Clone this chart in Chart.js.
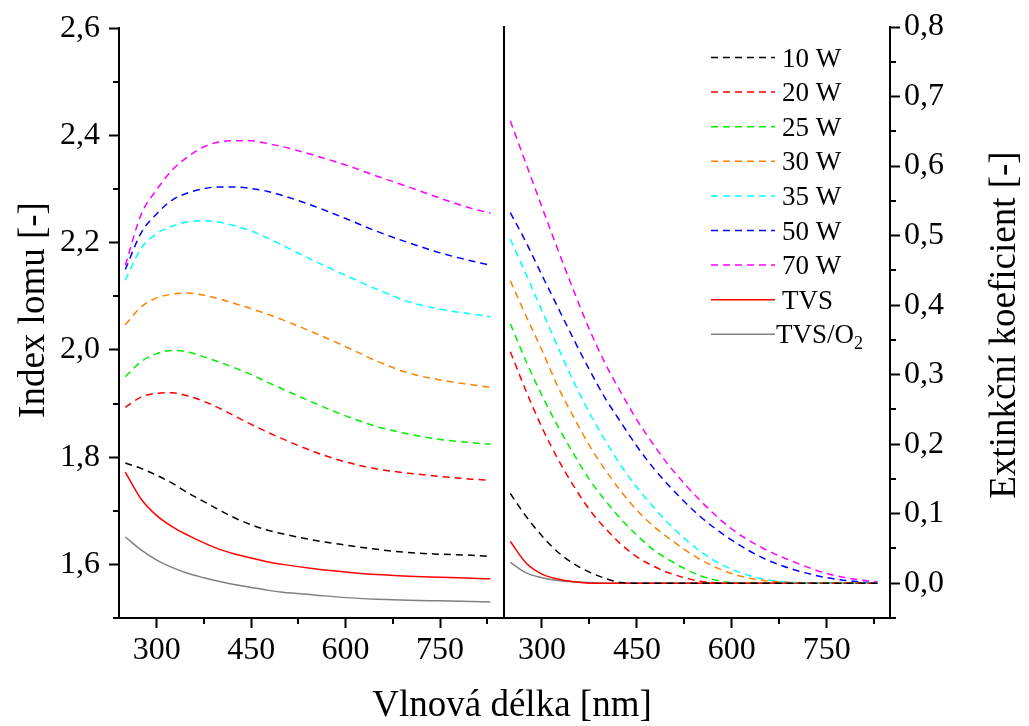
<!DOCTYPE html>
<html>
<head>
<meta charset="utf-8">
<script src="https://cdn.jsdelivr.net/npm/chart.js@4.4.1/dist/chart.umd.min.js"></script>
<style>
body { margin: 0; background: #fff; }
#wrap { position: relative; width: 1029px; height: 726px; }
#wrap canvas { position: absolute; left: 0; top: 0; }
</style>
</head>
<body>
<div id="wrap">
    <canvas id="indexChart" width="1029" height="726"></canvas>
    <canvas id="extChart" width="1029" height="726"></canvas>
</div>
<script>
// wavelength grid [nm], shared by both panels
const wavelength = [250, 275, 300, 325, 350, 375, 400, 425, 450, 475, 500, 550, 600, 650, 700, 750, 800, 830];

// index of refraction (left panel)
const n10W  = [1.789, 1.779, 1.766, 1.751, 1.733, 1.717, 1.701, 1.686, 1.674, 1.664, 1.657, 1.645, 1.636, 1.628, 1.622, 1.619, 1.617, 1.615];
const n20W  = [1.893, 1.912, 1.919, 1.920, 1.914, 1.904, 1.891, 1.876, 1.861, 1.847, 1.834, 1.810, 1.791, 1.778, 1.770, 1.764, 1.759, 1.757];
const n25W  = [1.950, 1.978, 1.993, 1.999, 1.996, 1.987, 1.977, 1.966, 1.954, 1.940, 1.927, 1.901, 1.877, 1.857, 1.843, 1.833, 1.827, 1.824];
const n30W  = [2.047, 2.080, 2.097, 2.104, 2.106, 2.102, 2.095, 2.086, 2.077, 2.067, 2.056, 2.032, 2.006, 1.979, 1.957, 1.944, 1.935, 1.930];
const n35W  = [2.130, 2.189, 2.217, 2.231, 2.239, 2.241, 2.238, 2.231, 2.222, 2.209, 2.195, 2.166, 2.139, 2.113, 2.090, 2.076, 2.067, 2.062];
const n50W  = [2.150, 2.218, 2.254, 2.280, 2.293, 2.301, 2.304, 2.304, 2.301, 2.296, 2.288, 2.268, 2.245, 2.221, 2.200, 2.181, 2.166, 2.158];
const n70W  = [2.158, 2.252, 2.299, 2.336, 2.361, 2.379, 2.388, 2.390, 2.390, 2.385, 2.379, 2.363, 2.345, 2.324, 2.304, 2.283, 2.264, 2.255];
const nTVS  = [1.772, 1.722, 1.691, 1.670, 1.654, 1.640, 1.628, 1.619, 1.612, 1.605, 1.600, 1.592, 1.586, 1.581, 1.578, 1.576, 1.574, 1.573];
const nTVSO2 = [1.651, 1.627, 1.608, 1.594, 1.583, 1.575, 1.568, 1.562, 1.557, 1.552, 1.548, 1.543, 1.538, 1.535, 1.533, 1.532, 1.531, 1.530];

// extinction coefficient (right panel)
const k10W  = [0.129, 0.096, 0.068, 0.045, 0.028, 0.016, 0.007, 0.001, 0, 0, 0, 0, 0, 0, 0, 0, 0, 0];
const k20W  = [0.333, 0.276, 0.224, 0.179, 0.140, 0.106, 0.079, 0.056, 0.038, 0.025, 0.015, 0.003, 0, 0, 0, 0, 0, 0];
const k25W  = [0.373, 0.319, 0.270, 0.226, 0.186, 0.149, 0.119, 0.092, 0.069, 0.049, 0.034, 0.011, 0.001, 0, 0, 0, 0, 0];
const k30W  = [0.435, 0.384, 0.335, 0.283, 0.239, 0.198, 0.163, 0.132, 0.105, 0.083, 0.065, 0.034, 0.014, 0.004, 0.001, 0, 0, 0];
const k35W  = [0.495, 0.444, 0.392, 0.340, 0.290, 0.245, 0.205, 0.169, 0.138, 0.111, 0.086, 0.046, 0.020, 0.006, 0.001, 0, 0, 0];
const k50W  = [0.533, 0.490, 0.443, 0.397, 0.351, 0.307, 0.266, 0.231, 0.197, 0.167, 0.141, 0.096, 0.062, 0.036, 0.019, 0.008, 0.002, 0];
const k70W  = [0.665, 0.603, 0.541, 0.480, 0.421, 0.365, 0.316, 0.274, 0.235, 0.201, 0.170, 0.119, 0.078, 0.050, 0.030, 0.014, 0.005, 0.002];
const kTVS  = [0.060, 0.029, 0.013, 0.006, 0.002, 0, 0, 0, 0, 0, 0, 0, 0, 0, 0, 0, 0, 0];
const kTVSO2 = [0.030, 0.015, 0.008, 0.004, 0.002, 0.001, 0, 0, 0, 0, 0, 0, 0, 0, 0, 0, 0, 0];

const seriesLabels = ['10 W', '20 W', '25 W', '30 W', '35 W', '50 W', '70 W', 'TVS', 'TVS/O2'];
const seriesColors = ['#000000', '#ff0000', '#00ee00', '#ff8000', '#00ffff', '#0000ff', '#ff00ff', '#ff0000', '#808080'];
const seriesDashed = [true, true, true, true, true, true, true, false, false];

const indexSeries = [n10W, n20W, n25W, n30W, n35W, n50W, n70W, nTVS, nTVSO2];
const extSeries = [k10W, k20W, k25W, k30W, k35W, k50W, k70W, kTVS, kTVSO2];

// axis ticks and titles
const wlTicks = [300, 450, 600, 750];
const wlMinorTicks = [375, 525, 675, 825];
const nTicks = [1.6, 1.8, 2.0, 2.2, 2.4, 2.6];
const nMinorTicks = [1.5, 1.7, 1.9, 2.1, 2.3, 2.5];
const kTicks = [0, 0.1, 0.2, 0.3, 0.4, 0.5, 0.6, 0.7, 0.8];
const kMinorTicks = [-0.05, 0.05, 0.15, 0.25, 0.35, 0.45, 0.55, 0.65, 0.75];
const xTitle = 'Vlnová délka [nm]';
const nTitle = 'Index lomu [-]';
const kTitle = 'Extinkční koeficient [-]';

const FONT = "'Liberation Serif', 'Times New Roman', serif";

function makeDatasets(series) {
    return series.map((values, i) => ({
        label: seriesLabels[i],
        data: values.map((v, j) => ({ x: wavelength[j], y: v })),
        borderColor: seriesColors[i],
        borderWidth: 1.5,
        borderDash: seriesDashed[i] ? [7, 5] : [],
        pointRadius: 0,
        cubicInterpolationMode: 'monotone',
        fill: false,
        xAxisID: 'x',
        yAxisID: 'y'
    }));
}

var gridOpts = {
    display: true,
    drawOnChartArea: false,
    drawTicks: true,
    tickLength: 10,
    tickWidth: 2,
    tickColor: '#000'
};
var borderOpts = { display: true, color: '#000', width: 2 };

function wavelengthAxis() {
    return {
        type: 'linear',
        position: 'bottom',
        min: 240,
        max: 850,
        afterBuildTicks: s => { s.ticks = wlTicks.map(v => ({ value: v })); },
        afterFit: s => { s.height = 108; },
        ticks: { color: '#000', font: { family: FONT, size: 32 }, padding: 3, maxRotation: 0, callback: v => String(v) },
        grid: gridOpts,
        border: borderOpts
    };
}

function commaLabel(v) {
    return v.toFixed(1).replace('.', ',');
}

// short ticks between the labelled ones
function minorTicks(yMinor, side) {
    return {
        id: 'minorTicks',
        afterDraw(chart) {
            const ctx = chart.ctx;
            const area = chart.chartArea;
            const xs = chart.scales.x, ys = chart.scales.y;
            ctx.save();
            ctx.strokeStyle = '#000';
            ctx.lineWidth = 2;
            ctx.beginPath();
            wlMinorTicks.forEach(v => {
                const px = Math.round(xs.getPixelForValue(v));
                ctx.moveTo(px, area.bottom);
                ctx.lineTo(px, area.bottom + 6);
            });
            yMinor.forEach(v => {
                const py = Math.round(ys.getPixelForValue(v));
                if (side === 'left') {
                    ctx.moveTo(area.left, py);
                    ctx.lineTo(area.left - 6, py);
                } else {
                    ctx.moveTo(area.right, py);
                    ctx.lineTo(area.right + 6, py);
                }
            });
            ctx.stroke();
            ctx.restore();
        }
    };
}

// legend in the top right of the right panel
const panelLegend = {
    id: 'panelLegend',
    afterDraw(chart) {
        const ctx = chart.ctx;
        ctx.save();
        chart.data.datasets.forEach((ds, i) => {
            const y = 57.5 + i * 34.6;
            ctx.strokeStyle = ds.borderColor;
            ctx.lineWidth = 1.5;
            ctx.setLineDash(ds.borderDash);
            ctx.beginPath();
            ctx.moveTo(711, y);
            ctx.lineTo(775, y);
            ctx.stroke();
            ctx.setLineDash([]);

            ctx.fillStyle = '#000';
            ctx.textBaseline = 'alphabetic';
            ctx.textAlign = 'left';
            ctx.font = '27px ' + FONT;
            if (ds.label === 'TVS/O2') {
                ctx.fillText('TVS/O', 776, y + 9);
                const w = ctx.measureText('TVS/O').width;
                ctx.font = '18px ' + FONT;
                ctx.fillText('2', 776 + w, y + 15);
            } else {
                ctx.fillText(ds.label, 782, y + 9);
            }
        });
        ctx.restore();
    }
};

// axis titles shared by the two panels
const axisTitles = {
    id: 'axisTitles',
    afterDraw(chart) {
        const ctx = chart.ctx;
        ctx.save();
        ctx.fillStyle = '#000';
        ctx.font = '37px ' + FONT;
        ctx.textAlign = 'center';
        ctx.textBaseline = 'middle';
        ctx.fillText(xTitle, 512, 706);
        [[34, 310, nTitle], [1005, 325, kTitle]].forEach(t => {
            ctx.save();
            ctx.translate(t[0], t[1]);
            ctx.rotate(-Math.PI / 2);
            ctx.fillText(t[2], 0, 0);
            ctx.restore();
        });
        ctx.restore();
    }
};

new Chart(document.getElementById('indexChart'), {
    type: 'line',
    data: { datasets: makeDatasets(indexSeries) },
    options: {
        responsive: false,
        animation: false,
        layout: { padding: { left: 0, right: 526, top: 27, bottom: 0 } },
        plugins: { legend: { display: false }, tooltip: { enabled: false } },
        scales: {
            x: wavelengthAxis(),
            y: {
                type: 'linear',
                position: 'left',
                min: 1.5,
                max: 2.6,
                afterBuildTicks: s => { s.ticks = nTicks.map(v => ({ value: v })); },
                afterFit: s => { s.width = 119; },
                ticks: { color: '#000', font: { family: FONT, size: 32 }, padding: 9, callback: commaLabel },
                grid: gridOpts,
                border: borderOpts
            }
        }
    },
    plugins: [minorTicks(nMinorTicks, 'left')]
});

new Chart(document.getElementById('extChart'), {
    type: 'line',
    data: { datasets: makeDatasets(extSeries) },
    options: {
        responsive: false,
        animation: false,
        layout: { padding: { left: 504, right: 0, top: 27, bottom: 0 } },
        plugins: { legend: { display: false }, tooltip: { enabled: false } },
        scales: {
            x: wavelengthAxis(),
            edge: {
                type: 'linear',
                position: 'left',
                min: -0.05,
                max: 0.8,
                ticks: { display: false },
                grid: { display: false },
                border: borderOpts,
                afterFit: s => { s.width = 0; }
            },
            y: {
                type: 'linear',
                position: 'right',
                min: -0.05,
                max: 0.8,
                afterBuildTicks: s => { s.ticks = kTicks.map(v => ({ value: v })); },
                afterFit: s => { s.width = 139; },
                ticks: { color: '#000', font: { family: FONT, size: 32 }, padding: 4, callback: commaLabel },
                grid: gridOpts,
                border: borderOpts
            }
        }
    },
    plugins: [minorTicks(kMinorTicks, 'right'), panelLegend, axisTitles]
});
</script>
</body>
</html>
